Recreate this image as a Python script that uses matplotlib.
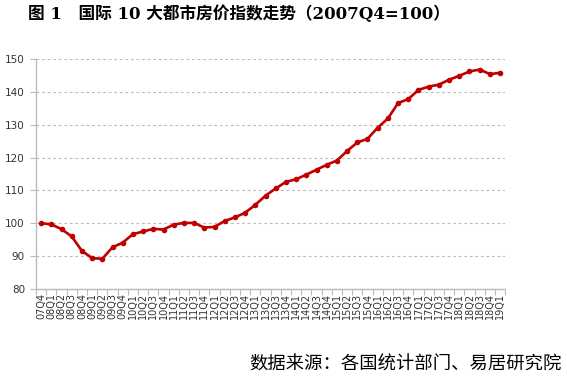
import matplotlib
matplotlib.use("Agg")
import matplotlib.pyplot as plt
import numpy as np

quarters = ["07Q4",
            "08Q1", "08Q2", "08Q3", "08Q4",
            "09Q1", "09Q2", "09Q3", "09Q4",
            "10Q1", "10Q2", "10Q3", "10Q4",
            "11Q1", "11Q2", "11Q3", "11Q4",
            "12Q1", "12Q2", "12Q3", "12Q4",
            "13Q1", "13Q2", "13Q3", "13Q4",
            "14Q1", "14Q2", "14Q3", "14Q4",
            "15Q1", "15Q2", "15Q3", "15Q4",
            "16Q1", "16Q2", "16Q3", "16Q4",
            "17Q1", "17Q2", "17Q3", "17Q4",
            "18Q1", "18Q2", "18Q3", "18Q4",
            "19Q1"]
index_values = [100.0,
                99.7, 98.2, 96.0, 91.6,
                89.4, 89.2, 92.7, 94.1,
                96.7, 97.5, 98.3, 98.1,
                99.6, 100.1, 100.1, 98.7,
                98.9, 100.7, 101.8, 103.2,
                105.6, 108.4, 110.6, 112.6,
                113.4, 114.8, 116.3, 117.8,
                119.1, 122.0, 124.6, 125.7,
                129.1, 131.9, 136.6, 137.8,
                140.6, 141.6, 142.2, 143.7,
                144.9, 146.2, 146.8, 145.4,
                145.8]
y_ticks = [80, 90, 100, 110, 120, 130, 140, 150]

title_text = "图 1　国际 10 大都市房价指数走势（2007Q4=100）"
source_text = "数据来源：各国统计部门、易居研究院"

plt.rcParams['font.family'] = ['Noto Sans CJK SC', 'DejaVu Sans']

fig = plt.figure(figsize=(5.67, 3.79), dpi=100)
ax = fig.add_axes([0.0635, 0.2375, 0.8275, 0.6068])

x = np.arange(len(quarters))
ax.plot(x, index_values, color="#C00000", linewidth=1.9, marker="o",
        markersize=3, markerfacecolor="#C00000", markeredgecolor="#C00000", zorder=3)

ax.set_xlim(-0.5, len(quarters) - 0.5)
ax.set_ylim(80, 150)
ax.set_yticks(y_ticks)
ax.set_yticklabels([str(v) for v in y_ticks], fontsize=7.5, color="#333333",
                   family=['DejaVu Sans'])
ax.set_xticks(x)
ax.set_xticklabels(quarters, rotation=90, fontsize=7, color="#333333",
                   family=['DejaVu Sans'])
ax.tick_params(axis='x', which='major', length=0, pad=3)
ax.set_xticks(np.arange(-0.5, len(quarters), 1.0), minor=True)
ax.tick_params(axis='x', which='minor', length=4, color="#BBBBBB", width=0.8)
ax.tick_params(axis='y', length=4, color="#BBBBBB", width=0.8, pad=4)

ax.yaxis.grid(True, linestyle=(0, (2.5, 2.5)), color="#BBBBBB", linewidth=0.8)
ax.set_axisbelow(True)
for s in ["top", "right"]:
    ax.spines[s].set_visible(False)
ax.spines["left"].set_color("#BBBBBB")
ax.spines["bottom"].set_color("#BBBBBB")
ax.spines["left"].set_linewidth(1.0)
ax.spines["bottom"].set_linewidth(1.0)

fig.text(0.05, 0.963, title_text, fontsize=12, fontweight="bold",
         ha="left", va="center", color="#000000",
         family=['DejaVu Serif', 'Noto Sans CJK SC'])
fig.text(0.991, 0.037, source_text, fontsize=13.2, ha="right", va="center",
         color="#000000")

fig.savefig("out.png", dpi=100)
